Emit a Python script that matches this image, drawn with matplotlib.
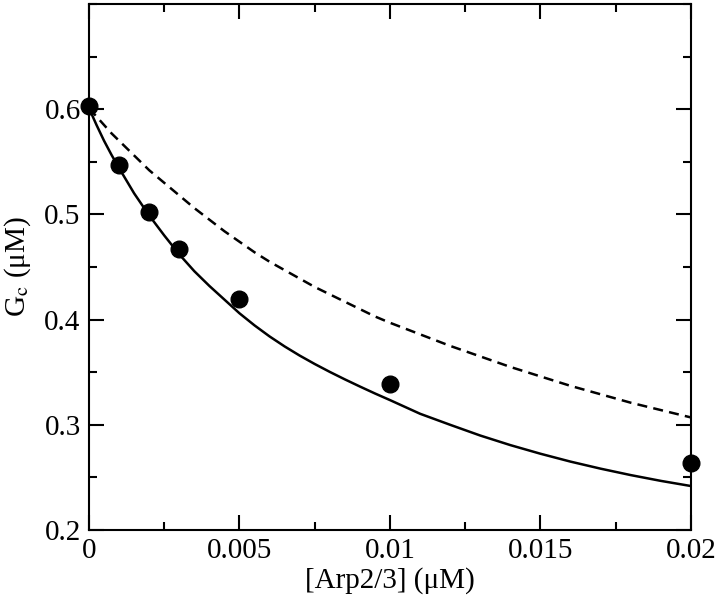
import matplotlib
matplotlib.use("Agg")
import matplotlib.pyplot as plt
from matplotlib.ticker import MultipleLocator, FuncFormatter

# measured points
arp = [0.0, 0.001, 0.002, 0.003, 0.005, 0.01, 0.02]
gc = [0.603, 0.547, 0.502, 0.467, 0.420, 0.339, 0.264]

# curves
curve_x = [0.0, 0.00025, 0.0005, 0.00075, 0.001, 0.0015, 0.002, 0.0025,
           0.003, 0.0035, 0.004, 0.0045, 0.005, 0.0055, 0.006, 0.0065,
           0.007, 0.0075, 0.008, 0.0085, 0.009, 0.0095, 0.010, 0.011,
           0.012, 0.013, 0.014, 0.015, 0.016, 0.017, 0.018, 0.019, 0.020]
solid_y = [0.601, 0.585, 0.570, 0.5565, 0.544, 0.520, 0.499, 0.480,
           0.462, 0.446, 0.432, 0.419, 0.406, 0.3945, 0.384, 0.3745,
           0.3658, 0.3578, 0.3503, 0.3432, 0.3364, 0.3298, 0.3235, 0.3105,
           0.300, 0.2898, 0.2807, 0.2725, 0.265, 0.2583, 0.2522, 0.2467, 0.2418]
dashed_y = [0.601, 0.593, 0.585, 0.577, 0.570, 0.556, 0.542, 0.530,
            0.518, 0.506, 0.495, 0.484, 0.474, 0.464, 0.455, 0.447,
            0.439, 0.431, 0.424, 0.417, 0.410, 0.403, 0.397, 0.386,
            0.375, 0.365, 0.355, 0.346, 0.337, 0.329, 0.321, 0.314, 0.307]

plt.rcParams['font.family'] = ['Liberation Serif', 'DejaVu Serif']
plt.rcParams['mathtext.fontset'] = 'stix'

fig = plt.figure(figsize=(7.2, 5.97), dpi=100)
ax = fig.add_axes([0.1236, 0.1122, 0.8361, 0.8811])

ax.plot(curve_x, solid_y, color='k', lw=1.8)
ax.plot(curve_x, dashed_y, color='k', lw=1.8, dashes=(4, 2.5))
ax.plot(arp, gc, 'o', color='k', ms=12, clip_on=False, zorder=5)

ax.set_xlim(0, 0.02)
ax.set_ylim(0.2, 0.7)
ax.set_xticks([0, 0.005, 0.01, 0.015, 0.02])
ax.set_yticks([0.2, 0.3, 0.4, 0.5, 0.6])
ax.xaxis.set_minor_locator(MultipleLocator(0.0025))
ax.yaxis.set_minor_locator(MultipleLocator(0.05))
ax.xaxis.set_major_formatter(FuncFormatter(lambda v, p: '%g' % v))
ax.yaxis.set_major_formatter(FuncFormatter(lambda v, p: '%g' % v))

ax.tick_params(which='both', direction='in', top=True, right=True,
               width=1.5, labelsize=21)
ax.tick_params(which='major', length=11, pad=6)
ax.tick_params(which='minor', length=6)
for s in ax.spines.values():
    s.set_linewidth(1.5)

ax.set_xlabel('[Arp2/3] (\u03bcM)', fontsize=21, labelpad=2)
ax.set_ylabel('G$_\\mathrm{c}$ (\u03bcM)', fontsize=21, labelpad=8)

fig.savefig('out.png', dpi=100)
